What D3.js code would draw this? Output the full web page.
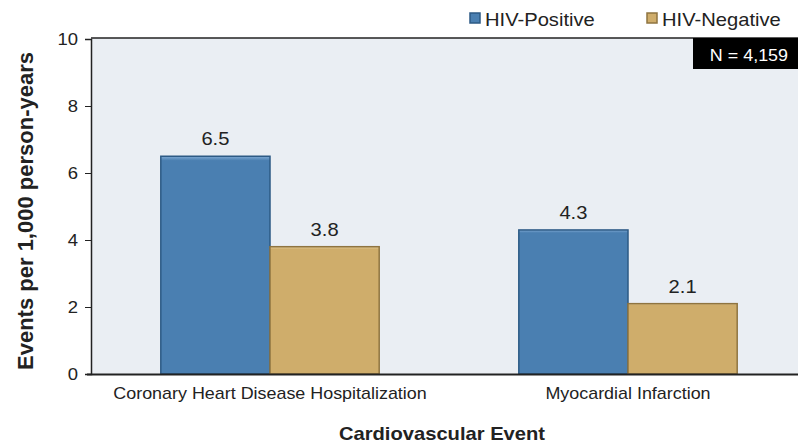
<!DOCTYPE html>
<html>
<head>
<script src="https://cdn.jsdelivr.net/npm/d3@7/dist/d3.min.js"></script>
<style>
body{margin:0;background:white;font-family:"Liberation Sans",Arial,sans-serif;}
</style>
</head>
<body>
<div id="chart"></div>
<script>
var categories = ["Coronary Heart Disease Hospitalization","Myocardial Infarction"]
var series = ["HIV-Positive","HIV-Negative"]
var positive = [6.5,4.3]
var negative = [3.8,2.1]
var yTicks = [0,2,4,6,8,10]
var colors = ["#4a7fb1","#cfad6b"]
var dark = ["#2d5a85","#8f7440"]
var light = ["#7fa9d3","#e6cd98"]
var sx = 1.12 // the reference text is a bit wide

var W = 798, H = 446
var svg = d3.select("#chart").append("svg").attr("width",W).attr("height",H)

var y = d3.scaleLinear().domain([0,10]).range([374,39])
var x0 = d3.scaleBand().domain(categories).range([91,807]).paddingInner(0.39).paddingOuter(0.195)
var x1 = d3.scaleBand().domain(series).range([0,x0.bandwidth()])

// text helper, stretched horizontally around its anchor
function label(x,yy,txt,size,anchor,weight,fill){
return svg.append("text")
.attr("transform","translate("+x+","+yy+") scale("+sx+",1)")
.attr("text-anchor",anchor||"start")
.attr("font-size",size)
.attr("font-weight",weight||"normal")
.attr("fill",fill||"#222")
.text(txt)
}

// plot background
svg.append("rect").attr("x",91).attr("y",38).attr("width",W-91).attr("height",374-38).attr("fill","#eaeef3")
svg.append("line").attr("x1",91).attr("x2",W).attr("y1",38).attr("y2",38).attr("stroke","#222").attr("stroke-width",1.5)

var defs = svg.append("defs")
series.forEach(function(s,i){
var g = defs.append("linearGradient").attr("id","grad"+i).attr("x1",0).attr("x2",0).attr("y1",0).attr("y2",1)
g.append("stop").attr("offset","0%").attr("stop-color",light[i])
g.append("stop").attr("offset","2%").attr("stop-color",colors[i])
g.append("stop").attr("offset","100%").attr("stop-color",colors[i])
})

var data = []
categories.forEach(function(c,ci){
data.push({cat:c,ser:series[0],v:positive[ci],i:0})
data.push({cat:c,ser:series[1],v:negative[ci],i:1})
})

svg.selectAll(".bar").data(data).enter().append("rect")
.attr("class","bar")
.attr("x",function(d){return x0(d.cat)+x1(d.ser)})
.attr("y",function(d){return y(d.v)})
.attr("width",x1.bandwidth())
.attr("height",function(d){return y(0)-y(d.v)})
.attr("fill",function(d){return "url(#grad"+d.i+")"})
.attr("stroke",function(d){return dark[d.i]})
.attr("stroke-width",1.5)

data.forEach(function(d){
label(x0(d.cat)+x1(d.ser)+x1.bandwidth()/2, y(d.v)-11, d.v.toFixed(1), 18, "middle")
})

// y axis
var yAxis = svg.append("g").attr("transform","translate(91,0)")
.call(d3.axisLeft(y).tickValues(yTicks).tickSize(6).tickPadding(6))
yAxis.select(".domain").attr("stroke","#222").attr("stroke-width",1.5)
yAxis.selectAll("line").attr("stroke","#222")
yAxis.selectAll("text").attr("font-size",16.5).attr("fill","#222").attr("font-family","Liberation Sans, Arial, sans-serif")
.attr("transform","translate(-13,0) scale("+sx+",1)").attr("x",0)

// x axis line
svg.append("line").attr("x1",87).attr("x2",W).attr("y1",374.5).attr("y2",374.5).attr("stroke","#222").attr("stroke-width",2)

categories.forEach(function(c){
label(x0(c)+x0.bandwidth()/2, 399, c, 16, "middle")
})

label(442, 440, "Cardiovascular Event", 18, "middle", "bold")

svg.append("text").attr("transform","translate(33,211) rotate(-90)").attr("text-anchor","middle")
.attr("font-size",22).attr("font-weight","bold").attr("fill","#222").text("Events per 1,000 person-years")

// legend
var legX = [470,647]
series.forEach(function(s,i){
svg.append("rect").attr("x",legX[i]).attr("y",13).attr("width",10).attr("height",10)
.attr("fill",colors[i]).attr("stroke",dark[i]).attr("stroke-width",1.5)
label(legX[i]+15, 26, s, 18)
})

// N box
svg.append("rect").attr("x",693).attr("y",38).attr("width",W-693).attr("height",31).attr("fill","#000")
label(788, 61, "N = 4,159", 16, "end", "normal", "white")
</script>
</body>
</html>
